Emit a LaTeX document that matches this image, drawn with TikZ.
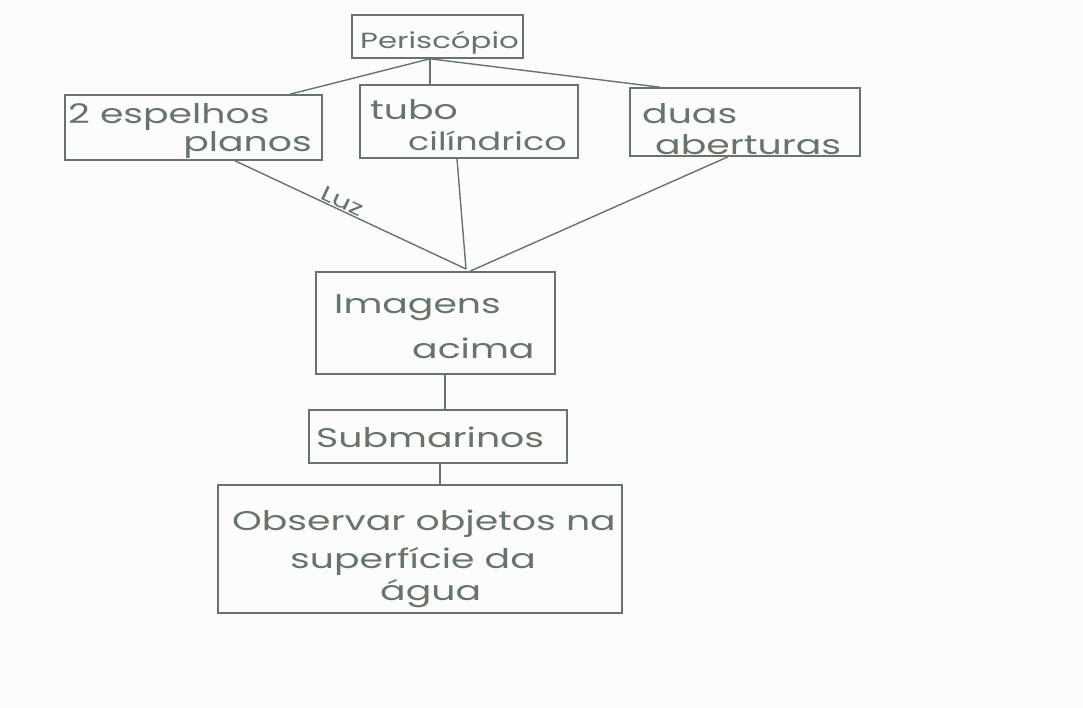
\documentclass[tikz,border=0pt]{standalone}
\usepackage{fontspec}
\setmainfont[FakeStretch=1.4]{Poppins}
\definecolor{pencil}{RGB}{105,115,108}
\definecolor{paper}{RGB}{252,252,252}
\tikzset{
  box/.style={draw=pencil, line width=1.6pt, rectangle, inner sep=0pt},
  txt/.style={text=pencil, font=\fontsize{27}{30}\selectfont, inner sep=0pt, anchor=base west},
  link/.style={draw=pencil, line width=1.4pt},
}
\begin{document}
\begin{tikzpicture}[x=1pt,y=-1pt]
\fill[paper] (0,0) rectangle (1083,708);
\useasboundingbox (0,0) rectangle (1083,708);
% boxes
\node[box, minimum width=171pt, minimum height=43pt] (per) at (437.5,36.5) {};
\node[box, minimum width=257pt, minimum height=65pt] (esp) at (193.5,127.5) {};
\node[box, minimum width=218pt, minimum height=73pt] (tub) at (469,121.5) {};
\node[box, minimum width=230pt, minimum height=68pt] (dua) at (745,122) {};
\node[box, minimum width=239pt, minimum height=102pt] (ima) at (435.5,323) {};
\node[box, minimum width=258pt, minimum height=53pt] (sub) at (438,436.5) {};
\node[box, minimum width=404pt, minimum height=128pt] (obs) at (420,549) {};
% texts
\node[txt, font=\fontsize{22}{30}\selectfont] at (360,49) {Periscópio};
\node[txt] at (68,124) {2 espelhos};
\node[txt, anchor=base east] at (312,152) {planos};
\node[txt] at (370,120) {tubo};
\node[txt, font=\fontsize{25}{30}\selectfont] at (408,151) {cilíndrico};
\node[txt] at (642,124) {duas};
\node[txt] at (655,155) {aberturas};
\node[txt] at (334,313) {Imagens};
\node[txt] at (412,358) {acima};
\node[txt] at (316,447) {Submarinos};
\node[txt] at (232,530) {Observar objetos na};
\node[txt] at (290,568) {superfície da};
\node[txt] at (380,600) {água};
% connectors
\coordinate (top) at (430,58);
\coordinate (meet) at (466,269);
\draw[link] (per.south -| top) -- (esp.north -| 290,0);
\draw[link] (per.south -| top) -- (tub.north -| top);
\draw[link] (per.south -| top) -- (dua.north -| 660,0);
\draw[link] (esp.south -| 235,0) -- node[pos=0.45, sloped, text=pencil, inner sep=0pt, font=\fontsize{21}{24}\selectfont, yshift=9pt] {Luz} (meet);
\draw[link] (tub.south -| 457,0) -- (meet);
\draw[link] (dua.south -| 728,0) -- (ima.north -| 470,0);
\draw[link] (ima.south -| 445,0) -- (sub.north -| 445,0);
\draw[link] (sub.south -| 440,0) -- (obs.north -| 440,0);
\end{tikzpicture}
\end{document}
